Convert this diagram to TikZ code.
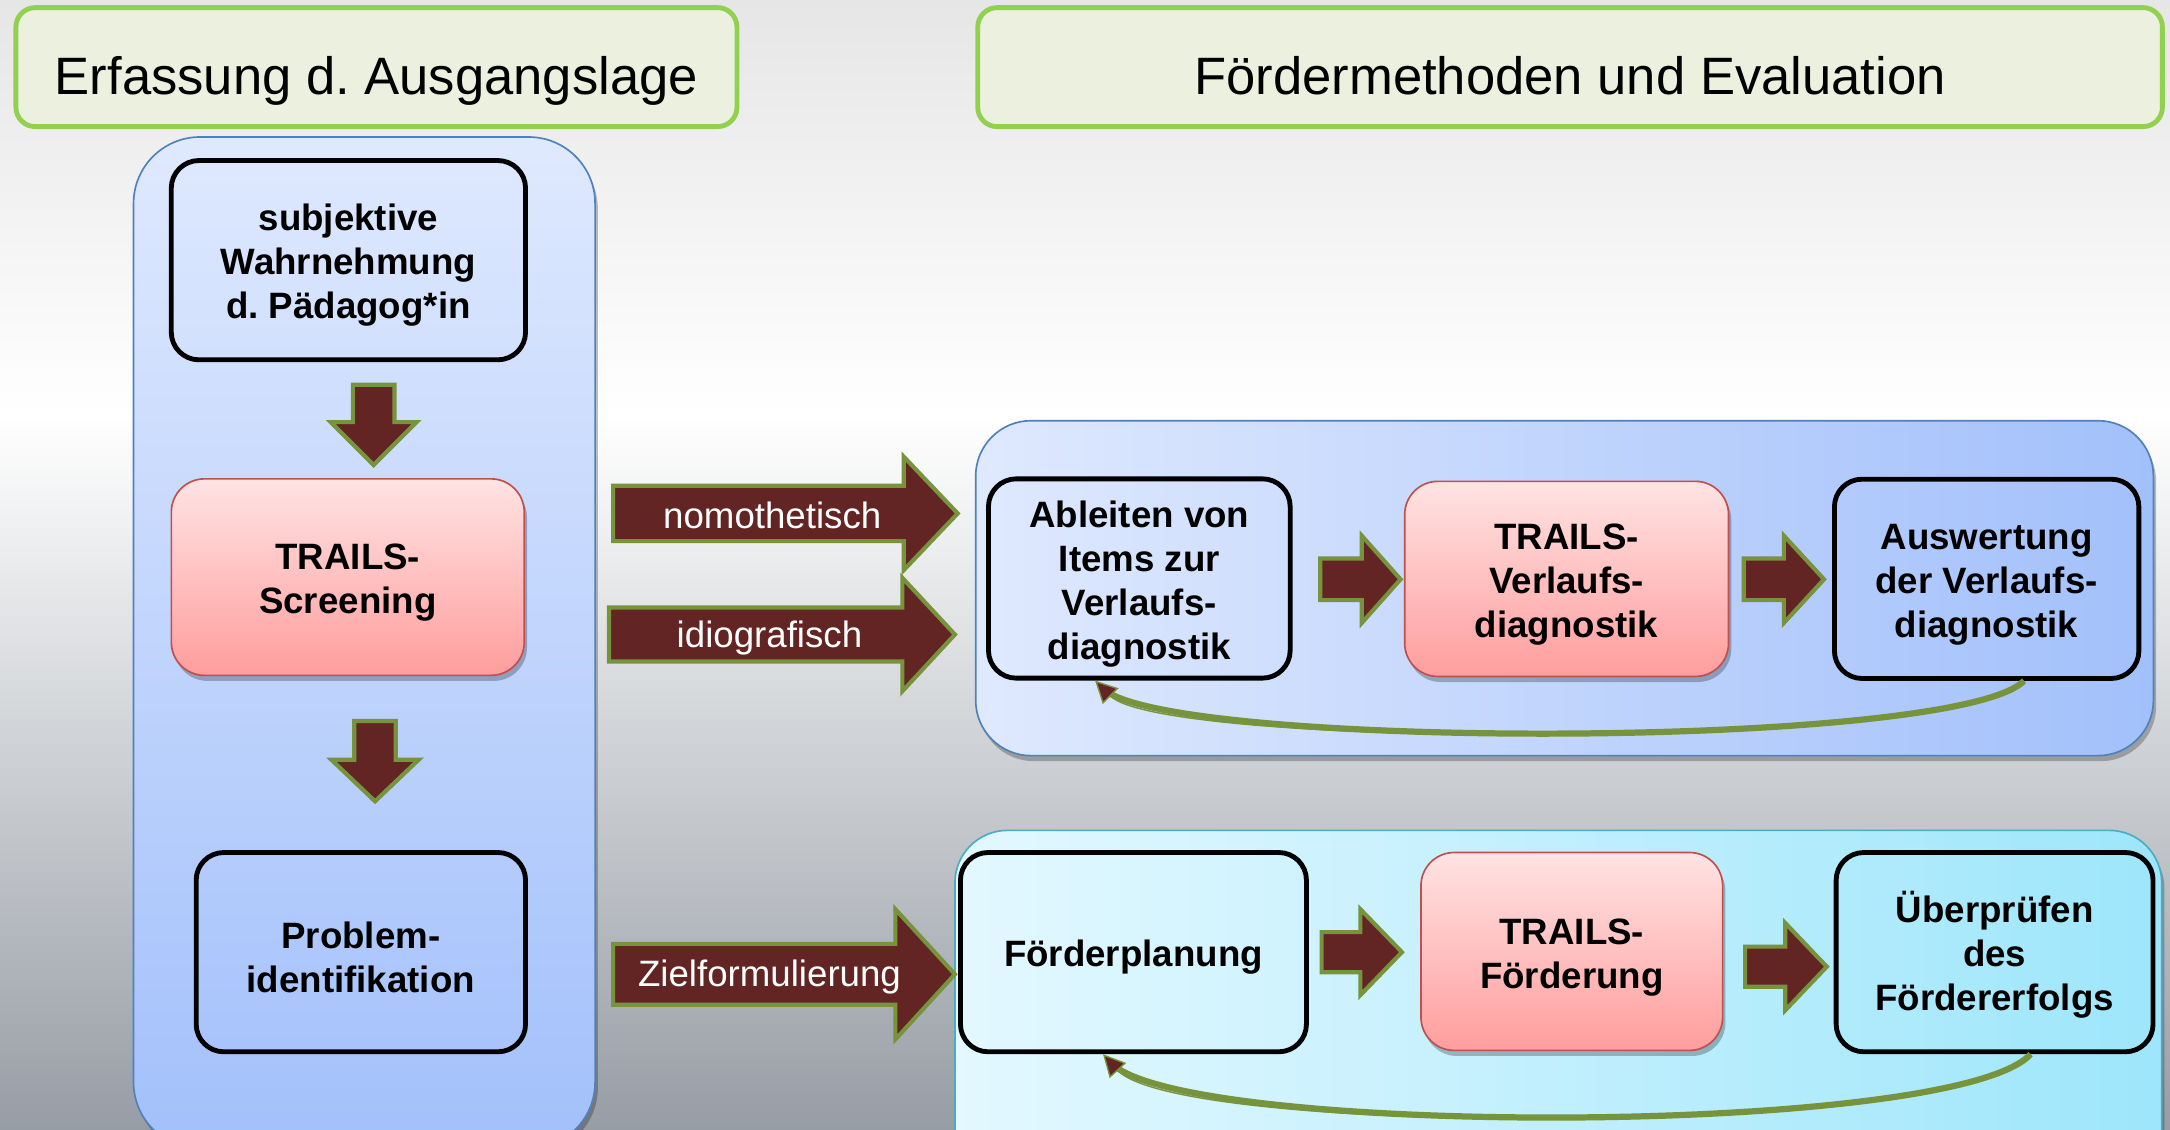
\documentclass[tikz,border=0pt]{standalone}
\usepackage{fontspec}
\setmainfont{Liberation Sans}
\usetikzlibrary{arrows.meta,shadows,calc}
\frenchspacing
\definecolor{bgtop}{HTML}{E6E6E6}
\definecolor{bgbot}{HTML}{979DA5}
\definecolor{titlefill}{HTML}{EBF1DE}
\definecolor{titledraw}{HTML}{92D050}
\definecolor{contdraw}{HTML}{4F81BD}
\definecolor{contA}{HTML}{DFE9FE}
\definecolor{contB}{HTML}{A2C0FB}
\definecolor{cyanA}{HTML}{E3F8FF}
\definecolor{cyanB}{HTML}{9EE6FB}
\definecolor{cyandraw}{HTML}{4BACC6}
\definecolor{pinkA}{HTML}{FFE3E3}
\definecolor{pinkB}{HTML}{FF9D9D}
\definecolor{pinkdraw}{HTML}{C0504D}
\definecolor{arrowred}{HTML}{632523}
\definecolor{arrowgreen}{HTML}{77933C}
\newcommand\bxfont{\fontsize{26.5}{31.8}\selectfont\bfseries}
\newcommand\lblfont{\fontsize{26.5}{31.8}\selectfont}
\newcommand\ttlfont{\fontsize{38}{44}\selectfont}
\newcommand\lowstrut{\rule{0pt}{27pt}}
\newcommand\rblock[6]{% x0, xh, x1, c, h, H
  \draw[barrow] (#1,#4-#5) -- (#2,#4-#5) -- (#2,#4-#6) -- (#3,#4) -- (#2,#4+#6) -- (#2,#4+#5) -- (#1,#4+#5) -- cycle;}
\newcommand\dblock[6]{% cx, ty, hy, py, h, H
  \draw[barrow] (#1-#5,#2) -- (#1+#5,#2) -- (#1+#5,#3) -- (#1+#6,#3) -- (#1,#4) -- (#1-#6,#3) -- (#1-#5,#3) -- cycle;}
\begin{document}
\begin{tikzpicture}[x=1pt,y=-1pt,
  titlebox/.style={draw=titledraw, fill=titlefill, line width=3.5pt, rounded corners=14pt, inner sep=0pt, minimum height=86pt},
  titletext/.style={font=\ttlfont, text=black, inner sep=0pt, anchor=base},
  shadowed/.style={drop shadow={shadow xshift=2pt, shadow yshift=-4pt, opacity=0.25, fill=black}},
  contbox/.style={draw=contdraw, line width=1.2pt, inner sep=0pt, shadowed},
  blackbox/.style={draw=black, line width=3.5pt, rounded corners=20pt, align=center, font=\bxfont, inner sep=0pt},
  pinkbox/.style={draw=pinkdraw, line width=1.2pt, top color=pinkA, bottom color=pinkB, rounded corners=24pt, align=center, font=\bxfont, inner sep=0pt, shadowed},
  barrow/.style={fill=arrowred, draw=arrowgreen, line width=3pt, line join=miter},
  lbl/.style={font=\lblfont, text=white, inner sep=0pt, anchor=base},
  loopline/.style={arrowgreen, line width=4.5pt, shorten >=8pt},
  looptip/.style={arrowgreen, line width=1pt, -{Triangle[length=16pt,width=16pt,fill=arrowred]}}
]
\clip (0,0) rectangle (1568,816);
% background
\fill[top color=bgtop, bottom color=white] (0,0) rectangle (1568,301);
\fill[top color=white, bottom color=bgbot] (0,300) rectangle (1568,816);

% titles
\node[titlebox, minimum width=521pt] (t1) at (272,48.5) {};
\node[titletext] (t1txt) at (272,68) {Erfassung d. Ausgangslage};
\node[titlebox, minimum width=856pt] (t2) at (1134.5,48.5) {};
\node[titletext] (t2txt) at (1134.5,68) {Fördermethoden und Evaluation};

% containers
\node[contbox, rounded corners=48pt, top color=contA, bottom color=contB, minimum width=333.5pt, minimum height=731pt] (leftc) at (263.25,464.5) {};
\node[contbox, rounded corners=40pt, left color=contA, right color=contB, minimum width=851pt, minimum height=242pt] (upc) at (1130.5,425) {};
\node[contbox, draw=cyandraw, rounded corners=38pt, left color=cyanA, right color=cyanB, minimum width=872pt, minimum height=280pt] (lowc) at (1126,740) {};

% left column
\node[blackbox, minimum width=256pt, minimum height=144pt] (subj) at (251.75,188) {\lowstrut subjektive\\Wahrnehmung\\d. Pädagog*in};
\node[pinkbox, minimum width=255pt, minimum height=142pt] (screen) at (251.3,417) {\lowstrut TRAILS-\\Screening};
\node[blackbox, minimum width=238pt, minimum height=144pt] (prob) at (260.75,688) {\lowstrut Problem-\\identifikation};
\dblock{270}{278}{305}{336}{15}{31}
\dblock{271}{521}{549}{579}{15}{31.5}

% upper right row
\node[blackbox, minimum width=218pt, minimum height=144pt] (ableiten) at (823.25,418) {\lowstrut Ableiten von\\Items zur\\Verlaufs-\\diagnostik};
\node[pinkbox, minimum width=234pt, minimum height=141pt] (tverl) at (1132,418.3) {\lowstrut TRAILS-\\Verlaufs-\\diagnostik};
\node[blackbox, minimum width=220pt, minimum height=144pt] (ausw) at (1435.5,418.25) {\lowstrut Auswertung\\der Verlaufs-\\diagnostik};
\rblock{954}{984}{1012}{418.6}{15}{31.5}
\rblock{1260}{1289}{1318}{418.6}{15}{31.5}
\draw[loopline] ([xshift=27pt]ausw.south) .. controls +(-50,50) and +(50,50) .. ([xshift=-32pt]ableiten.south);
\draw[looptip] ([xshift=27pt]ausw.south) .. controls +(-50,50) and +(50,50) .. ([xshift=-32pt]ableiten.south);

% lower right row
\node[blackbox, minimum width=250pt, minimum height=144pt] (fplan) at (819,688) {\lowstrut Förderplanung};
\node[pinkbox, minimum width=218pt, minimum height=143pt] (tfoerd) at (1135.75,687.5) {\lowstrut TRAILS-\\Förderung};
\node[blackbox, minimum width=229pt, minimum height=144pt] (ueber) at (1441.25,688) {\lowstrut Überprüfen\\des\\Fördererfolgs};
\rblock{955}{983}{1013}{688}{14.5}{31}
\rblock{1261}{1290}{1320}{698.5}{14.5}{31.5}
\draw[loopline] ([xshift=26pt]ueber.south) .. controls +(-55,60) and +(55,60) .. ([xshift=-22pt]fplan.south);
\draw[looptip] ([xshift=26pt]ueber.south) .. controls +(-55,60) and +(55,60) .. ([xshift=-22pt]fplan.south);

% labelled connector arrows
\rblock{443}{653}{692}{371}{20}{41}
\node[lbl] (nomo) at (558,382) {nomothetisch};
\rblock{440}{652}{690}{458.5}{19.5}{41}
\node[lbl] (idio) at (556,468) {idiografisch};
\rblock{443}{647}{690}{704}{22}{47}
\node[lbl] (ziel) at (556,713) {Zielformulierung};
\end{tikzpicture}
\end{document}
